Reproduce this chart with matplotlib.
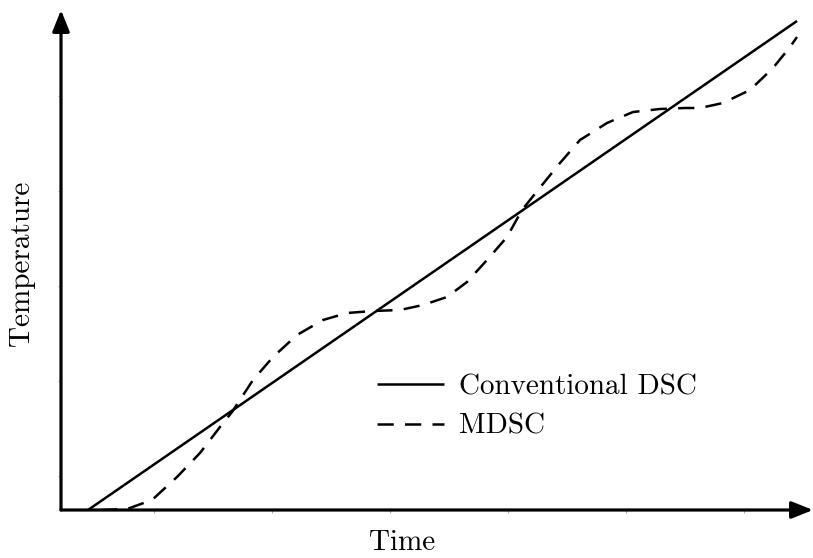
import matplotlib
matplotlib.use("Agg")
import matplotlib.pyplot as plt

plt.rcParams['font.family'] = 'serif'
plt.rcParams['font.serif'] = ['cmr10', 'DejaVu Serif']
plt.rcParams['mathtext.fontset'] = 'cm'
plt.rcParams['axes.formatter.use_mathtext'] = True

# Conventional DSC: linear heating
time_dsc = [27, 736]
temp_dsc = [0, 489]

# MDSC: modulated heating
time_mdsc = [40, 66, 91, 116, 139, 159, 171, 192, 212, 236, 262, 286, 312, 339,
             362, 386, 406, 426, 446, 461, 477, 499, 519, 546, 572, 599, 624,
             639, 662, 689, 712, 729, 736]
temp_mdsc = [0, 1, 10, 33, 57, 83, 98, 130, 153, 175, 190, 197, 199, 200,
             205, 213, 228, 250, 273, 300, 320, 347, 370, 387, 398, 401, 402,
             402, 407, 420, 442, 463, 473]

x_ticks = [93, 211, 329, 447, 565, 683]
y_ticks = [34, 129, 224, 319, 414]

labels = ["Conventional DSC", "MDSC"]

W, H = 813, 558
fig = plt.figure(figsize=(W / 100, H / 100), dpi=100)
ax = fig.add_axes([61 / W, (H - 510) / H, (W - 61) / W, 500 / H])
ax.set_xlim(0, 752)
ax.set_ylim(0, 500)

ax.plot(time_dsc, temp_dsc, color='black', lw=1.8, label=labels[0],
        solid_capstyle='butt')
ax.plot(time_mdsc, temp_mdsc, color='black', lw=1.8, linestyle=(0, (6.5, 4.5)),
        label=labels[1], dash_capstyle='butt')

for s in ax.spines.values():
    s.set_visible(False)

ax.set_xticks(x_ticks)
ax.set_yticks(y_ticks)
ax.tick_params(axis='both', length=2.5, width=0.8, color='#a8a8a8',
               labelbottom=False, labelleft=False, direction='out')

# axes with arrow heads
arrow_style = '-|>,head_length=0.65,head_width=0.26'
ax.annotate('', xy=(1.0, 0.0), xytext=(0.0, 0.0), xycoords='axes fraction',
            textcoords='axes fraction',
            arrowprops=dict(arrowstyle=arrow_style, lw=2.3, color='black',
                            mutation_scale=20, shrinkA=0, shrinkB=0),
            annotation_clip=False)
ax.annotate('', xy=(0.0, 1.0), xytext=(0.0, 0.0), xycoords='axes fraction',
            textcoords='axes fraction',
            arrowprops=dict(arrowstyle=arrow_style, lw=2.3, color='black',
                            mutation_scale=20, shrinkA=0, shrinkB=0),
            annotation_clip=False)

fig.text(402 / W, 1 - 543 / H, "Time", fontsize=21, ha='center', va='center')
fig.text(22 / W, 1 - 263 / H, "Temperature", fontsize=21, ha='center',
         va='center', rotation=90)

leg = ax.legend(loc='upper left', bbox_to_anchor=(377 / W, 1 - 374 / H),
                bbox_transform=fig.transFigure, frameon=False, fontsize=21,
                handlelength=2.3, handletextpad=0.5, labelspacing=0.45,
                borderpad=0, borderaxespad=0)

fig.savefig("out.png", dpi=100)
